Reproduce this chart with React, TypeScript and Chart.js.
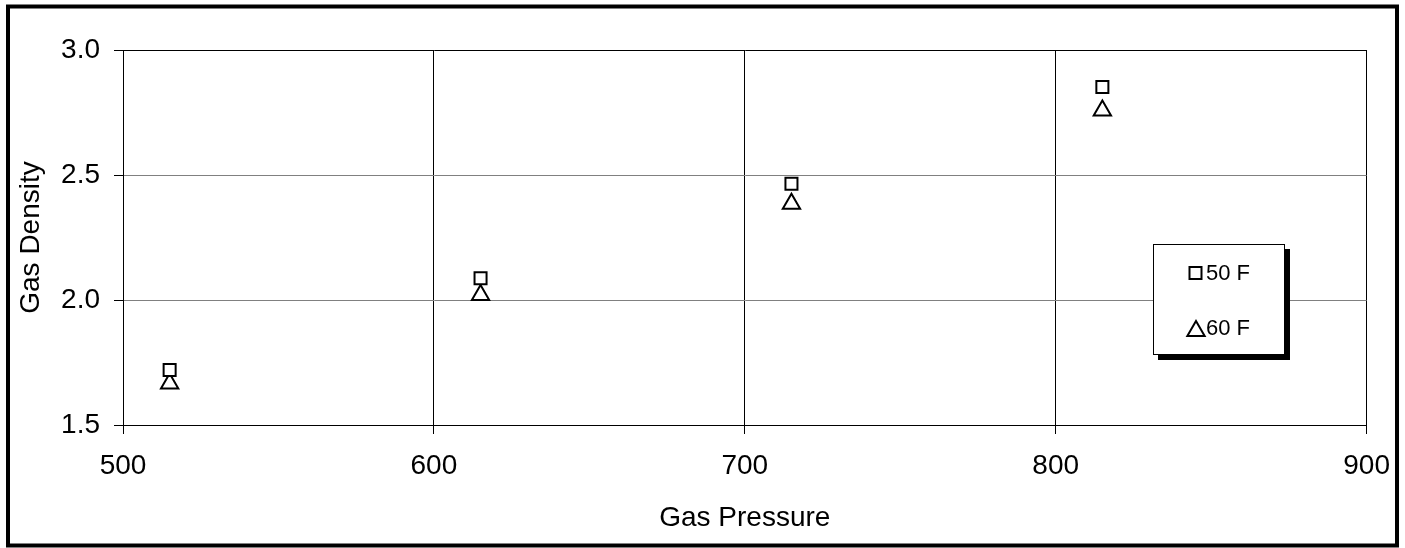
import React, { useEffect, useRef } from "react";
import { Chart, registerables } from "chart.js";

Chart.register(...registerables);

const pressures = [515, 615, 715, 815];
const density50F = [1.72, 2.087, 2.465, 2.852];
const density60F = [1.666, 2.02, 2.385, 2.758];
const seriesNames = ["50 F", "60 F"];
const xTitle = "Gas Pressure";
const yTitle = "Gas Density";

const FONT = "Arial, 'Liberation Sans', sans-serif";

const decorPlugin = {
  id: "decor",
  beforeDraw(chart: any) {
    const ctx = chart.ctx;
    ctx.save();
    ctx.fillStyle = "#ffffff";
    ctx.fillRect(0, 0, chart.width, chart.height);
    ctx.restore();
  },
  afterDraw(chart: any) {
    const ctx = chart.ctx;
    const area = chart.chartArea;
    ctx.save();
    // outer frame
    ctx.strokeStyle = "#000000";
    ctx.lineWidth = 4;
    ctx.strokeRect(8, 6.5, 1389, 539);

    // axis titles
    ctx.fillStyle = "#000000";
    ctx.font = `28px ${FONT}`;
    ctx.textAlign = "center";
    ctx.textBaseline = "middle";
    ctx.fillText(xTitle, (area.left + area.right) / 2, 518);
    ctx.save();
    ctx.translate(31, (area.top + area.bottom) / 2);
    ctx.rotate(-Math.PI / 2);
    ctx.fillText(yTitle, 0, 0);
    ctx.restore();

    // legend box with shadow
    const lx = 1153, ly = 244, lw = 132, lh = 111;
    ctx.fillStyle = "#000000";
    ctx.fillRect(lx + 5, ly + 5, lw, lh);
    ctx.fillStyle = "#ffffff";
    ctx.fillRect(lx, ly, lw, lh);
    ctx.strokeStyle = "#000000";
    ctx.lineWidth = 1;
    ctx.strokeRect(lx + 0.5, ly + 0.5, lw - 1, lh - 1);

    // legend entries
    ctx.lineWidth = 2;
    ctx.strokeStyle = "#000000";
    ctx.fillStyle = "#ffffff";
    // square
    ctx.beginPath();
    ctx.rect(1189.5, 267, 12, 12);
    ctx.fill();
    ctx.stroke();
    // triangle
    const tx = 1196, ty = 331, r = 10;
    ctx.beginPath();
    ctx.moveTo(tx, ty - r);
    ctx.lineTo(tx + r * 0.866, ty + r * 0.5);
    ctx.lineTo(tx - r * 0.866, ty + r * 0.5);
    ctx.closePath();
    ctx.fill();
    ctx.stroke();

    ctx.fillStyle = "#000000";
    ctx.font = `22px ${FONT}`;
    ctx.textAlign = "left";
    ctx.textBaseline = "middle";
    ctx.fillText(seriesNames[0], 1206, 274);
    ctx.fillText(seriesNames[1], 1206, 329);
    ctx.restore();
  },
};

export default function App() {
  const ref = useRef<HTMLCanvasElement | null>(null);

  useEffect(() => {
    document.body.style.margin = "0";
    const canvas = ref.current;
    if (!canvas) return;
    const chart = new Chart(canvas, {
      type: "scatter",
      data: {
        datasets: [
          {
            label: seriesNames[0],
            data: pressures.map((x, i) => ({ x, y: density50F[i] })),
            pointStyle: "rect",
            pointRadius: 8.5,
            pointBorderWidth: 2,
            borderColor: "#000000",
            backgroundColor: "#ffffff",
            pointBackgroundColor: "#ffffff",
            pointBorderColor: "#000000",
          },
          {
            label: seriesNames[1],
            data: pressures.map((x, i) => ({ x, y: density60F[i] })),
            pointStyle: "triangle",
            pointRadius: 10,
            pointBorderWidth: 2,
            borderColor: "#000000",
            backgroundColor: "#ffffff",
            pointBackgroundColor: "#ffffff",
            pointBorderColor: "#000000",
          },
        ],
      },
      options: {
        responsive: false,
        animation: false,
        devicePixelRatio: 1,
        layout: { padding: { left: 10, top: 50, right: 38, bottom: 10 } },
        plugins: {
          legend: { display: false },
          tooltip: { enabled: false },
        },
        scales: {
          x: {
            type: "linear",
            min: 500,
            max: 900,
            ticks: {
              stepSize: 100,
              color: "#000000",
              font: { family: FONT, size: 28 },
              padding: 15,
              maxRotation: 0,
            },
            grid: {
              color: "#000000",
              lineWidth: 1,
              tickLength: 9,
              tickColor: "#000000",
            },
            border: { display: true, color: "#000000", width: 1 },
            afterFit(scale: any) {
              scale.height = 548 - 10 - 425;
            },
          },
          y: {
            type: "linear",
            min: 1.5,
            max: 3.0,
            ticks: {
              stepSize: 0.5,
              color: "#000000",
              font: { family: FONT, size: 28 },
              padding: 14,
              callback: (v: any) => Number(v).toFixed(1),
            },
            grid: {
              color: (c: any) =>
                c.tick && (c.tick.value === 3 || c.tick.value === 1.5) ? "#000000" : "#808080",
              lineWidth: 1,
              tickLength: 9,
              tickColor: "#000000",
            },
            border: { display: true, color: "#000000", width: 1 },
            afterFit(scale: any) {
              scale.width = 123 - 10;
            },
          },
        },
      },
      plugins: [decorPlugin],
    } as any);
    return () => chart.destroy();
  }, []);

  return (
    <div style={{ position: "absolute", left: 0, top: 0, width: 1405, height: 548 }}>
      <canvas ref={ref} width={1405} height={548} />
    </div>
  );
}
